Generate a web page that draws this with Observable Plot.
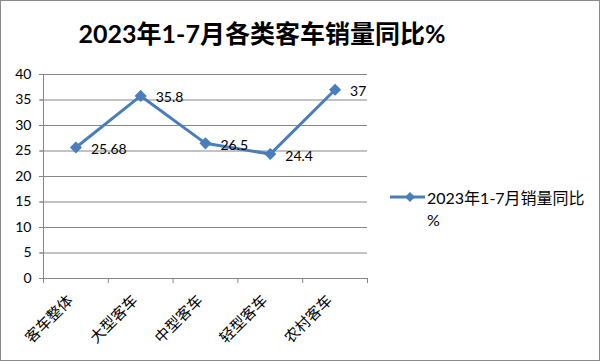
<!DOCTYPE html>
<html><head><meta charset="utf-8">
<script src="https://cdn.jsdelivr.net/npm/d3@7"></script>
<script src="https://cdn.jsdelivr.net/npm/@observablehq/plot@0.6"></script>
<style>
body{margin:0;background:#fff}
#chart{position:relative;width:600px;height:361px;overflow:hidden;background:#fff;font-family:Lato,"Noto Sans CJK SC",sans-serif;color:#000}
#frame{position:absolute;left:0;top:0;right:0;bottom:0;border:1px solid #8a8a8a;pointer-events:none}
#title{position:absolute;left:0;width:524px;top:15px;text-align:center;font-size:25px;font-weight:bold;line-height:36px;white-space:nowrap}
#legend{position:absolute;left:390px;top:187px;font-size:16px;line-height:22px}
#legend svg{position:absolute;left:0;top:0}
#legend .txt{position:absolute;left:37px;top:0;white-space:nowrap}
#plot{position:absolute;left:0;top:0}
</style></head>
<body>
<div id="chart">
  <div id="plot"></div>
  <div id="title">2023年1-7月各类客车销量同比%</div>
  <div id="legend"></div>
  <div id="frame"></div>
</div>
<script>
const categories = ["客车整体","大型客车","中型客车","轻型客车","农村客车"];
const values = [25.68, 35.8, 26.5, 24.4, 37];
const valueLabels = ["25.68","35.8","26.5","24.4","37"];
const yTicks = [0,5,10,15,20,25,30,35,40];
const seriesName = "2023年1-7月销量同比";
const seriesSuffix = "%";
const lineColor = "#4a7ebb";
const gridColor = "#868686";

const data = categories.map((c,i)=>({i, c, v: values[i], label: valueLabels[i]}));
const boundaries = d3.range(categories.length + 1).map(k => k - 0.5);

const chart = Plot.plot({
  width: 600, height: 361,
  marginLeft: 43, marginRight: 233, marginTop: 74, marginBottom: 83,
  style: {fontFamily: 'Lato, "Noto Sans CJK SC", sans-serif', fontSize: "14px", color: "#000", background: "transparent"},
  x: {domain: [-0.5, categories.length - 0.5], axis: null},
  y: {domain: [0, 40], axis: null},
  marks: [
    Plot.ruleY(yTicks.slice(1), {stroke: gridColor, strokeOpacity: 1, insetLeft: -3}),
    Plot.axisY({ticks: yTicks, tickSize: 4, tickPadding: 8, fontSize: 14, stroke: gridColor, strokeOpacity: 1, label: null}),
    Plot.ruleX([-0.5], {stroke: gridColor}),
    Plot.ruleY([0], {stroke: gridColor}),
    Plot.axisX({ticks: boundaries, tickFormat: () => "", tickSize: 5, stroke: gridColor, strokeOpacity: 1, label: null}),
    Plot.text(data, {x: "i", frameAnchor: "bottom", text: "c", rotate: -45, textAnchor: "end", dx: -2, dy: 23, fontSize: 15, fill: "#000"}),
    Plot.line(data, {x: "i", y: "v", stroke: lineColor, strokeWidth: 3}),
    Plot.dot(data, {x: "i", y: "v", symbol: "diamond2", r: 4.5, fill: lineColor, stroke: lineColor}),
    Plot.text(data, {x: "i", y: "v", text: "label", textAnchor: "start", dx: 15, dy: 2, fontSize: 14, fill: "#000"})
  ]
});
document.getElementById("plot").appendChild(chart);

const legend = document.getElementById("legend");
legend.innerHTML = `<svg width="40" height="22"><line x1="0" y1="10" x2="35" y2="10" stroke="${lineColor}" stroke-width="3"/><path d="M20,5 L25,10 L20,15 L15,10 Z" fill="${lineColor}"/></svg><div class="txt"></div>`;
const t = legend.querySelector(".txt");
t.appendChild(document.createTextNode(seriesName));
t.appendChild(document.createElement("br"));
t.appendChild(document.createTextNode(seriesSuffix));
</script>
</body></html>
